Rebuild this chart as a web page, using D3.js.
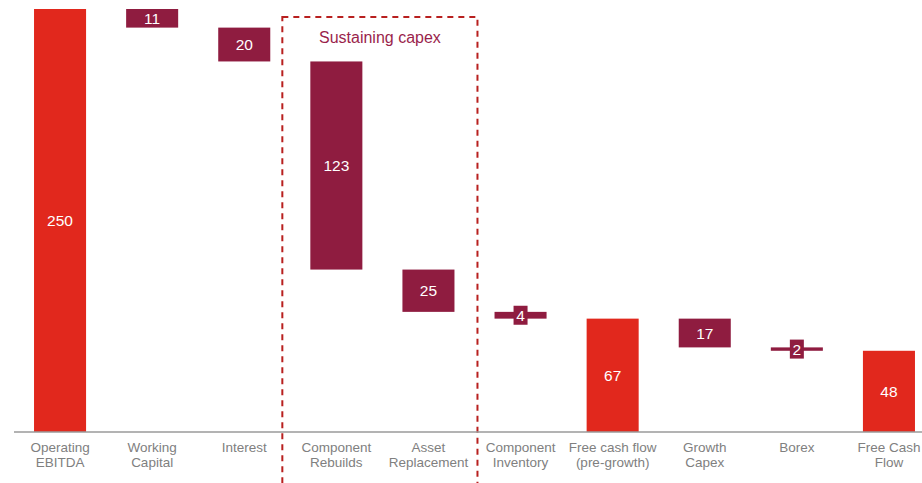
<!DOCTYPE html>
<html>
<head>
<meta charset="utf-8">
<script src="https://cdn.jsdelivr.net/npm/d3@7"></script>
<style>
  body { margin: 0; background: #fff; }
  svg { display: block; font-family: "Liberation Sans", Arial, sans-serif; }
</style>
</head>
<body>
<div id="chart"></div>
<script>
// waterfall data
var categories = [
  ["Operating", "EBITDA"],
  ["Working", "Capital"],
  ["Interest"],
  ["Component", "Rebuilds"],
  ["Asset", "Replacement"],
  ["Component", "Inventory"],
  ["Free cash flow", "(pre-growth)"],
  ["Growth", "Capex"],
  ["Borex"],
  ["Free Cash", "Flow"]
];
var values = [250, -11, -20, -123, -25, -4, 67, -17, -2, 48];
var isTotal = [true, false, false, false, false, false, true, false, false, true];
var groupLabel = "Sustaining capex";
var groupFrom = 3, groupTo = 4;

var width = 922, height = 483;
var red = "#e1281d", plum = "#8f1c40";

var svg = d3.select("#chart").append("svg")
  .attr("width", width)
  .attr("height", height);

// build running totals
var run = 0;
var bars = values.map(function(v, i) {
  var lo, hi;
  if (isTotal[i]) { lo = 0; hi = v; run = v; }
  else { hi = run; lo = run + v; run = lo; if (v > 0) { lo = run - v; hi = run; } }
  return {i: i, key: categories[i].join(" "), value: v, lo: Math.min(lo, hi), hi: Math.max(lo, hi), total: isTotal[i]};
});

var x = d3.scaleBand()
  .domain(bars.map(function(d){ return d.key; }))
  .range([14, 935])
  .paddingInner(0.435)
  .paddingOuter(0.2175);

var y = d3.scaleLinear()
  .domain([0, 250])
  .range([432, 9]);

// dashed group box
var gx0 = x(bars[groupFrom].key) - 28;
var gx1 = x(bars[groupTo].key) + x.bandwidth() + 23;
svg.append("rect")
  .attr("x", gx0)
  .attr("y", 17)
  .attr("width", gx1 - gx0)
  .attr("height", 500)
  .attr("fill", "none")
  .attr("stroke", "#b8201f")
  .attr("stroke-width", 2)
  .attr("stroke-dasharray", "6,5");

svg.append("text")
  .attr("x", (gx0 + gx1) / 2)
  .attr("y", 43)
  .attr("text-anchor", "middle")
  .attr("fill", "#9a1f4c")
  .style("font-size", "16px")
  .text(groupLabel);

// bars
svg.selectAll("rect.bar")
  .data(bars)
  .enter().append("rect")
  .attr("class", "bar")
  .attr("x", function(d){ return x(d.key); })
  .attr("y", function(d){ return y(d.hi); })
  .attr("width", x.bandwidth())
  .attr("height", function(d){ return y(d.lo) - y(d.hi); })
  .attr("fill", function(d){ return d.total ? red : plum; });

// label backgrounds for thin bars
var thin = bars.filter(function(d){ return y(d.lo) - y(d.hi) < 12; });
svg.selectAll("rect.lblbg")
  .data(thin)
  .enter().append("rect")
  .attr("class", "lblbg")
  .attr("x", function(d){ return x(d.key) + x.bandwidth() / 2 - 7; })
  .attr("y", function(d){ return (y(d.lo) + y(d.hi)) / 2 - 9.5; })
  .attr("width", 14)
  .attr("height", 19)
  .attr("fill", plum);

// value labels
svg.selectAll("text.val")
  .data(bars)
  .enter().append("text")
  .attr("class", "val")
  .attr("x", function(d){ return x(d.key) + x.bandwidth() / 2; })
  .attr("y", function(d){ return (y(d.lo) + y(d.hi)) / 2; })
  .attr("dy", "0.36em")
  .attr("text-anchor", "middle")
  .attr("fill", "#fff")
  .style("font-size", "15.5px")
  .text(function(d){ return Math.abs(d.value); });

// axis line
svg.append("line")
  .attr("x1", 14).attr("x2", width)
  .attr("y1", y(0)).attr("y2", y(0))
  .attr("stroke", "#9a9a9a")
  .attr("stroke-width", 1.5);

// category labels
var lbl = svg.selectAll("text.cat")
  .data(bars)
  .enter().append("text")
  .attr("class", "cat")
  .attr("text-anchor", "middle")
  .attr("fill", "#808080")
  .style("font-size", "13.5px");

lbl.selectAll("tspan")
  .data(function(d){ return categories[d.i].map(function(t){ return {t: t, k: d.key}; }); })
  .enter().append("tspan")
  .attr("x", function(d){ return x(d.k) + x.bandwidth() / 2; })
  .attr("y", function(d, j){ return 451.5 + j * 15.7; })
  .text(function(d){ return d.t; });
</script>
</body>
</html>
